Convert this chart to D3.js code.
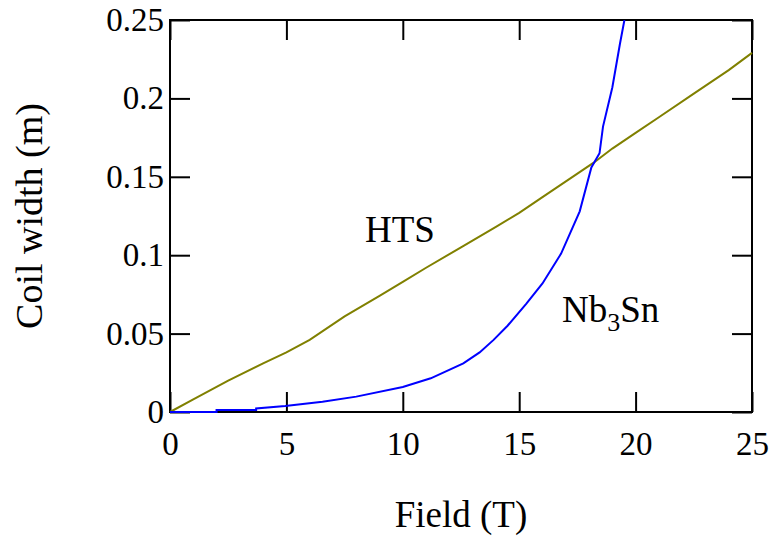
<!DOCTYPE html>
<html>
<head>
<meta charset="utf-8">
<script src="https://cdn.jsdelivr.net/npm/d3@7"></script>
<style>
  body { margin: 0; background: #fff; }
  text { font-family: "Times New Roman", "Liberation Serif", Tinos, Times, serif; fill: #000; }
</style>
</head>
<body>
<svg width="780" height="538"></svg>
<script>
// Field (T) vs coil width (m)
var htsField = [0, 1, 2.5, 4, 5, 6, 7.5, 9, 10, 11, 12.5, 14, 15, 16, 17.5, 18.2, 19, 20, 21, 22.5, 24, 25]
var htsWidth = [0, 0.008, 0.02, 0.031, 0.038, 0.046, 0.061, 0.074, 0.083, 0.092, 0.105, 0.118, 0.127, 0.137, 0.152, 0.159, 0.168, 0.178, 0.188, 0.203, 0.218, 0.229]

var nbField = [0, 2.0, 2.0, 3.7, 3.7, 4.95, 6.55, 8, 10, 11.2, 12.6, 13.3, 13.9, 14.5, 15.3, 16, 16.8, 17.6, 18.1, 18.45, 18.6, 19.0, 19.33, 19.52]
var nbWidth = [0, 0, 0.0013, 0.0013, 0.0023, 0.0038, 0.0066, 0.0098, 0.016, 0.0215, 0.031, 0.038, 0.046, 0.055, 0.069, 0.082, 0.101, 0.128, 0.156, 0.165, 0.182, 0.207, 0.235, 0.25]

var xTicks = [0, 5, 10, 15, 20, 25]
var yTicks = [0, 0.05, 0.1, 0.15, 0.2, 0.25]

var svg = d3.select("svg")
var margin = {left: 170, top: 20, right: 28, bottom: 126}
var width = 780 - margin.left - margin.right
var height = 538 - margin.top - margin.bottom

var x = d3.scaleLinear().domain([0, 25]).range([0, width])
var y = d3.scaleLinear().domain([0, 0.25]).range([height, 0])

var g = svg.append("g").attr("transform", "translate(" + margin.left + "," + margin.top + ")")

g.append("clipPath").attr("id", "plot")
  .append("rect").attr("x", -2).attr("y", 0).attr("width", width + 4).attr("height", height + 2)

// axes, ticks point inward on all four sides
var tick = 20

g.append("g").attr("transform", "translate(0," + height + ")")
  .call(d3.axisBottom(x).tickValues(xTicks).tickSizeInner(-tick).tickSizeOuter(0).tickPadding(20))
g.append("g")
  .call(d3.axisTop(x).tickValues(xTicks).tickSizeInner(-tick).tickSizeOuter(0).tickFormat(""))
g.append("g")
  .call(d3.axisLeft(y).tickValues(yTicks).tickSizeInner(-tick).tickSizeOuter(0).tickPadding(6).tickFormat(d => String(+d.toFixed(2))))
g.append("g").attr("transform", "translate(" + width + ",0)")
  .call(d3.axisRight(y).tickValues(yTicks).tickSizeInner(-tick).tickSizeOuter(0).tickFormat(""))

g.selectAll(".domain").remove()
g.selectAll(".tick line").attr("stroke", "#000").attr("stroke-width", 2)
g.selectAll(".tick text").attr("font-family", null).style("font-size", "33px")

g.append("rect")
  .attr("width", width).attr("height", height)
  .attr("fill", "none").attr("stroke", "#000").attr("stroke-width", 2)

// curves, on top of the frame
var line = d3.line().x(d => x(d[0])).y(d => y(d[1]))

g.append("path")
  .datum(d3.zip(htsField, htsWidth))
  .attr("d", line)
  .attr("fill", "none")
  .attr("stroke", "#808000")
  .attr("stroke-width", 2)
  .attr("clip-path", "url(#plot)")

g.append("path")
  .datum(d3.zip(nbField, nbWidth))
  .attr("d", line)
  .attr("fill", "none")
  .attr("stroke", "#0000ff")
  .attr("stroke-width", 2)
  .attr("clip-path", "url(#plot)")

// titles
svg.append("text")
  .attr("x", margin.left + width / 2).attr("y", 527)
  .attr("text-anchor", "middle")
  .style("font-size", "37px")
  .text("Field (T)")

svg.append("text")
  .attr("transform", "translate(42," + (margin.top + height / 2) + ") rotate(-90)")
  .attr("text-anchor", "middle")
  .style("font-size", "38px")
  .text("Coil width (m)")

// curve labels
svg.append("text")
  .attr("x", 400).attr("y", 242)
  .attr("text-anchor", "middle")
  .style("font-size", "37px")
  .text("HTS")

var nb = svg.append("text")
  .attr("x", 562).attr("y", 322)
  .style("font-size", "37px")
nb.append("tspan").text("Nb")
nb.append("tspan").attr("dy", 9).style("font-size", "26px").text("3")
nb.append("tspan").attr("dy", -9).text("Sn")
</script>
</body>
</html>
